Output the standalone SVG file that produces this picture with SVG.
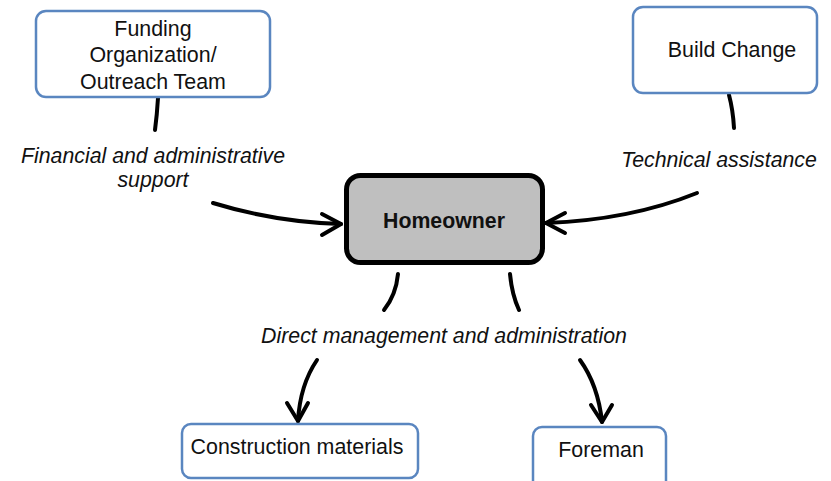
<svg xmlns="http://www.w3.org/2000/svg" width="831" height="481" viewBox="0 0 831 481">
  <style>
    .box { fill: #ffffff; stroke: #5a86c0; stroke-width: 2.5; }
    .main { fill: #bfbfbf; stroke: #000000; stroke-width: 5; }
    .t { font-family: "Liberation Sans", Arial, sans-serif; font-size: 21.4px; fill: #111111; text-anchor: middle; }
    .b { font-weight: bold; font-size: 21.3px; }
    .i { font-style: italic; font-size: 21.3px; }
    .c { fill: none; stroke: #000000; stroke-width: 4; stroke-linecap: round; stroke-linejoin: round; }
  </style>
  <rect width="831" height="481" fill="#ffffff"/>

  <g id="connectors">
    <!-- Funding organization to homeowner -->
    <path class="c" d="M158,98 Q157,115 155,130"/>
    <path class="c" d="M213,203 Q275,222 341,224"/>
    <polyline class="c" points="322,214 341,224 322,235"/>
    <!-- Build Change to homeowner -->
    <path class="c" d="M729,95 Q733,110 734,128"/>
    <path class="c" d="M697,193 Q630,220 546,223"/>
    <polyline class="c" points="565,213 546,223 565,233"/>
    <!-- Homeowner down to construction materials and foreman -->
    <path class="c" d="M398,274 Q396,295 384,310"/>
    <path class="c" d="M510,274 Q512,295 519,310"/>
    <path class="c" d="M317,360 Q300,385 298,421"/>
    <polyline class="c" points="287,403 298,421 308,403"/>
    <path class="c" d="M580,360 Q598,385 602,422"/>
    <polyline class="c" points="591,405 602,422 612,405"/>
  </g>

  <g id="edge-labels">
    <text class="t i" x="153" y="163">Financial and administrative</text>
    <text class="t i" x="153" y="187">support</text>
    <text class="t i" x="719" y="167">Technical assistance</text>
    <text class="t i" x="444" y="343">Direct management and administration</text>
  </g>

  <g id="funding">
    <rect class="box" x="36" y="11" width="234" height="86" rx="10"/>
    <text class="t" x="153" y="36">Funding</text>
    <text class="t" x="153" y="62">Organization/</text>
    <text class="t" x="153" y="89">Outreach Team</text>
  </g>

  <g id="build-change">
    <rect class="box" x="633" y="7" width="184" height="86" rx="10"/>
    <text class="t" x="732" y="57">Build Change</text>
  </g>

  <g id="homeowner">
    <rect class="main" x="346.5" y="175.5" width="196" height="87" rx="14"/>
    <text class="t b" x="444" y="228">Homeowner</text>
  </g>

  <g id="construction-materials">
    <rect class="box" x="182" y="424" width="236" height="54" rx="9"/>
    <text class="t" x="297" y="454">Construction materials</text>
  </g>

  <g id="foreman">
    <rect class="box" x="533" y="427" width="133" height="64" rx="9"/>
    <text class="t" x="601" y="457">Foreman</text>
  </g>
</svg>
